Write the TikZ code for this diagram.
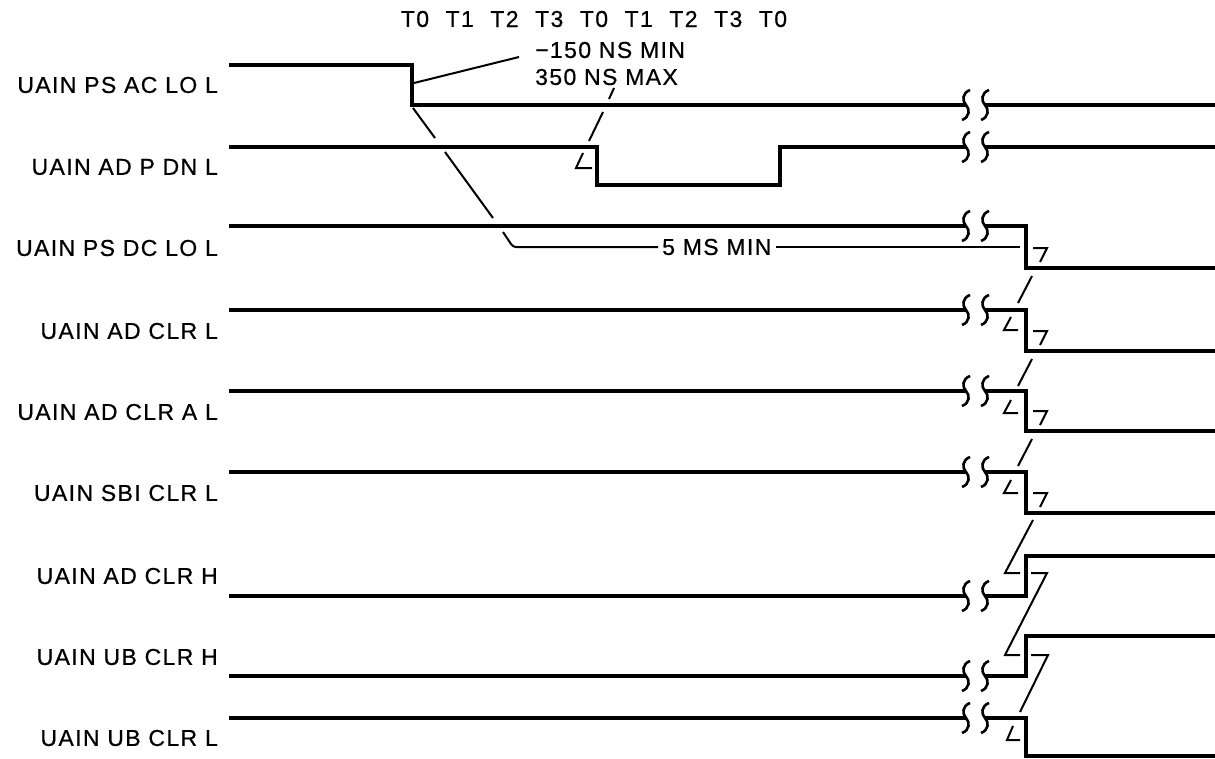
\documentclass[tikz,border=0pt]{standalone}
\usepackage{fontspec}
\setmainfont{Liberation Sans}[LetterSpace=6, FakeBold=0.6]

\begin{document}
\begin{tikzpicture}[x=1pt, y=-1pt,
    sig/.style={line width=3.2pt},
    lead/.style={line width=2pt},
    txt/.style={font=\fontsize{23}{27}\selectfont, inner sep=0pt},
    wiggle/.pic={\draw[line width=2.6pt] (4,-15) .. controls (-4,-12) and (-4,-4) .. (0,0) .. controls (4,4) and (4,12) .. (-4,15);}]
    \useasboundingbox (0,0) rectangle (1215,758);

    % Clock phases
    \foreach \i/\t in {0/T0,1/T1,2/T2,3/T3,4/T0,5/T1,6/T2,7/T3,8/T0} {
        \node[txt] (clk\i) at ({415+44.75*\i},19) {\t};
    }

    % Signal names
    \foreach \n/\y/\t in {1/85/UAIN PS AC LO L, 2/167/UAIN AD P DN L, 3/248/UAIN PS DC LO L,
                          4/331/UAIN AD CLR L, 5/412/UAIN AD CLR A L, 6/493/UAIN SBI CLR L,
                          7/576/UAIN AD CLR H, 8/657/UAIN UB CLR H, 9/738/UAIN UB CLR L} {
        \node[txt, anchor=east] (name\n) at (218,\y) {\t};
    }

    % UAIN PS AC LO L
    \draw[sig] (229,65) -- (412,65) -- (412,105) -- (966,105);
    \draw[sig] (985,105) -- (1215,105);

    % UAIN AD P DN L
    \draw[sig] (229,147) -- (597,147) -- (597,185) -- (780,185) -- (780,147) -- (966,147);
    \draw[sig] (985,147) -- (1215,147);

    % Falling edges after the break
    \foreach \yh/\yl in {226/268, 310/351, 391/431, 472/513, 718/756} {
        \draw[sig] (229,\yh) -- (966,\yh);
        \draw[sig] (985,\yh) -- (1026,\yh) -- (1026,\yl) -- (1215,\yl);
    }

    % Rising edges after the break
    \foreach \yl/\yh in {596/556, 676/636} {
        \draw[sig] (229,\yl) -- (966,\yl);
        \draw[sig] (985,\yl) -- (1026,\yl) -- (1026,\yh) -- (1215,\yh);
    }

    % Break marks
    \foreach \y in {105,147,226,310,391,472,596,676,718} {
        \pic at (966,\y) {wiggle};
        \pic at (985,\y) {wiggle};
    }

    % -150 NS MIN / 350 NS MAX
    \node[txt, anchor=west] (nsmin) at (535,50) {−150 NS MIN};
    \node[txt, anchor=west] (nsmax) at (535,77) {350 NS MAX};
    \coordinate (acfall) at (414,83);
    \coordinate (minend) at (519,57);
    \draw[lead] (acfall) -- (minend);
    \draw[lead] (614,88) -- (609,99);
    \draw[lead] (603,112) -- (589,141);
    \draw[lead] (583,153) -- (576,168) -- (592,168);

    % 5 MS MIN
    \node[txt, inner xsep=4pt, anchor=west] (fivems) at (658,247) {5 MS MIN};
    \coordinate (dcend) at (1020,247);
    \draw[lead] (413,108) -- (435,138);
    \draw[lead] (445,152) -- (493,218);
    \draw[lead, rounded corners=3pt] (503,232) -- (513,247) -- (fivems.west);
    \draw[lead] (fivems.east) -- (dcend);

    % Clear sequence
    \foreach \y in {248,331,411} {
        \draw[lead] (1033,\y) -- (1047,\y) -- (1040,{\y+14});
        \draw[lead] (1032,{\y+28}) -- (1018,{\y+55});
        \draw[lead] (1011,{\y+69}) -- (1004,{\y+82}) -- (1018,{\y+82});
    }
    \draw[lead] (1033,493) -- (1047,493) -- (1040,507);
    \draw[lead] (1033,520) -- (1005,573) -- (1020,573);
    \draw[lead] (1031,573) -- (1047,573) -- (1005,655) -- (1020,655);
    \draw[lead] (1031,655) -- (1048,655) -- (1020,712);
    \draw[lead] (1013,726) -- (1007,740) -- (1020,740);
\end{tikzpicture}
\end{document}
